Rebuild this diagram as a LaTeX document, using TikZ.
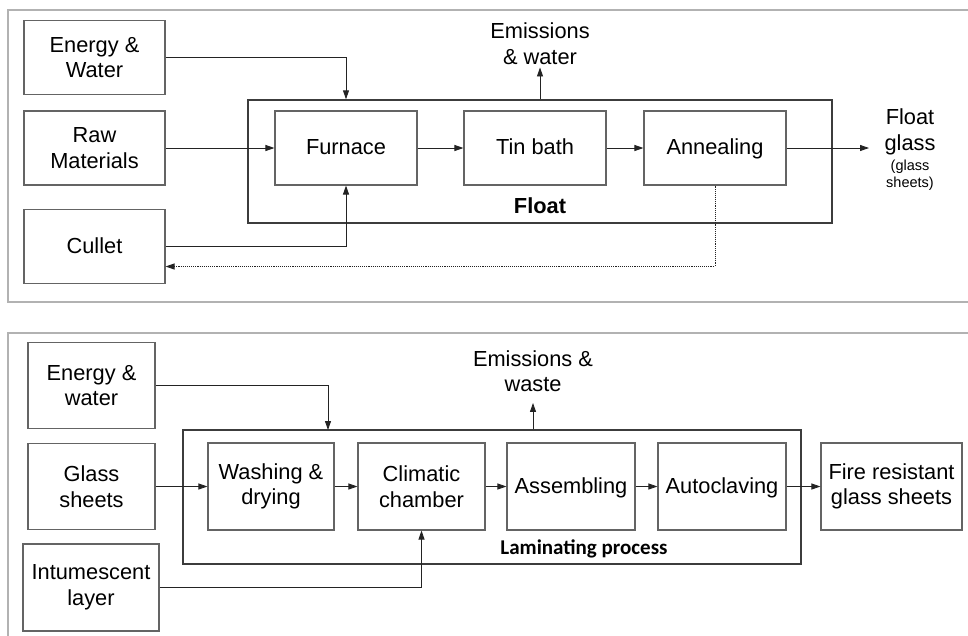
\documentclass[tikz,border=0pt]{standalone}
\usepackage{fontspec}
\setmainfont{Liberation Sans}
\newfontfamily\tagfont{Carlito}
\usetikzlibrary{arrows.meta,positioning,calc}
\definecolor{panelgrey}{RGB}{178,178,178}
\definecolor{boxgrey}{RGB}{100,100,100}
\definecolor{framegrey}{RGB}{60,60,60}
\definecolor{flowgrey}{RGB}{35,35,35}
\newcommand{\mainsize}{\fontsize{21.8}{25.5}\selectfont}
\newcommand{\smallsize}{\fontsize{14.5}{17}\selectfont}
\tikzset{
  stepbox/.style={draw=boxgrey,line width=1.1pt,align=center,inner sep=0pt,font=\mainsize},
  topbox/.style={stepbox,minimum width=141pt,minimum height=74pt},
  lowbox/.style={stepbox,minimum width=127pt,minimum height=86pt},
  oneline/.style={align=none,text height=15.5pt,text depth=2pt},
  procframe/.style={draw=framegrey,line width=1.4pt,inner sep=0pt},
  plaintext/.style={align=center,inner sep=3pt,font=\mainsize},
  flow/.style={draw=flowgrey,line width=0.9pt,-{Triangle[length=9pt,width=6pt]}},
  panel/.style={draw=panelgrey,line width=1.6pt}
}

\begin{document}
\begin{tikzpicture}[x=1pt,y=-1pt]
	\clip (0,0) rectangle (968,635);
	\fill[white] (0,0) rectangle (968,635);
	\draw[panel] (8,10) rectangle (985,302);
	\draw[panel] (8,333) rectangle (985,660);

	\node[procframe,minimum width=584pt,minimum height=123pt] (floatbox) at (540,161.5) {};
	\node[topbox] (energyA) at (94.5,57.5) {Energy \&\\Water};
	\node[topbox] (raw) at (94.5,148) {Raw\\Materials};
	\node[topbox,oneline] (cullet) at (94.5,246.5) {Cullet};
	\node[topbox,oneline,minimum width=142pt] (furnace) at (346,148) {Furnace};
	\node[topbox,oneline,minimum width=142pt] (tinbath) at (535,148) {Tin bath};
	\node[topbox,oneline,minimum width=142pt] (anneal) at (715,148) {Annealing};
	\node[plaintext] (emisA) at (540,43.5) {Emissions\\\& water};
	\node[font=\mainsize\bfseries] (floattag) at (540,206) {Float};
	\node[plaintext,inner sep=0pt] (floatglass) at (910,132) {Float\\glass};
	\node[align=center,inner sep=0pt,font=\smallsize] (sheetsA) at (910,175) {(glass\\sheets)};
	\coordinate (floatout) at (869,148);

	\draw[flow] (energyA.east) -| (furnace.north |- floatbox.north);
	\draw[flow] (raw.east) -- (furnace.west);
	\draw[flow] (furnace) -- (tinbath);
	\draw[flow] (tinbath) -- (anneal);
	\draw[flow] (anneal.east) -- (floatout);
	\draw[flow] (cullet.east) -| (furnace.south);
	\draw[flow] (emisA.south |- floatbox.north) -- (emisA.south);
	\draw[flow,densely dotted] (anneal.south) |- ([yshift=-20pt]cullet.east);

	\node[procframe,minimum width=618pt,minimum height=134pt] (lamibox) at (492,497) {};
	\node[lowbox] (energyB) at (91.5,385.5) {Energy \&\\water};
	\node[lowbox] (glass) at (91.5,486.5) {Glass\\sheets};
	\node[lowbox,minimum width=136pt,minimum height=87pt] (intu) at (91,587.5) {Intumescent\\layer};
	\node[lowbox,minimum width=126pt,minimum height=87pt] (wash) at (271,486.5) {Washing \&\\drying};
	\node[lowbox,minimum height=87pt] (climate) at (421.5,486.5) {Climatic\\chamber};
	\node[lowbox,oneline,minimum width=128pt,minimum height=87pt] (assem) at (571,486.5) {Assembling};
	\node[lowbox,oneline,minimum width=128pt,minimum height=87pt] (autoc) at (722,486.5) {Autoclaving};
	\node[lowbox,minimum width=141pt,minimum height=87pt] (fire) at (891.5,486.5) {Fire resistant\\glass sheets};
	\node[plaintext,inner ysep=11pt] (emisB) at (533,371) {Emissions \&\\waste};
	\node[font=\tagfont\fontsize{21}{25}\selectfont\bfseries] (lamitag) at (584,549) {Laminating process};
	\coordinate (waterin) at (328,430);

	\draw[flow] (energyB.east) -| (waterin);
	\draw[flow] (glass) -- (wash);
	\draw[flow] (wash) -- (climate);
	\draw[flow] (climate) -- (assem);
	\draw[flow] (assem) -- (autoc);
	\draw[flow] (autoc) -- (fire);
	\draw[flow] (intu.east) -| (climate.south);
	\draw[flow] (emisB.south |- lamibox.north) -- (emisB.south);
\end{tikzpicture}
\end{document}
